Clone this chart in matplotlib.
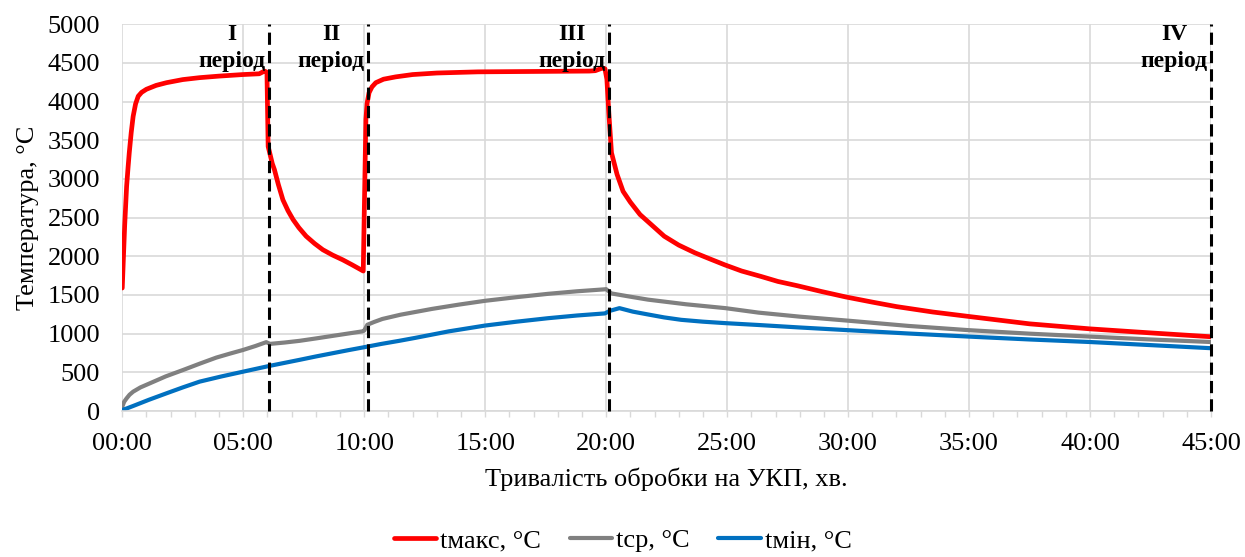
import matplotlib
matplotlib.use('Agg')
import matplotlib.pyplot as plt
from matplotlib.ticker import MultipleLocator, FixedLocator

# time in minutes, temperature in deg C
t_max = [0.0, 0.05, 0.1, 0.18, 0.24, 0.29, 0.37, 0.45, 0.55, 0.66, 0.8, 1.0, 1.4,
         1.83, 2.5, 3.2, 4.0, 4.98, 5.66, 5.88, 5.98,
         6.03, 6.1, 6.2, 6.29, 6.45, 6.64, 6.85, 7.06, 7.3, 7.6, 7.95, 8.29, 8.7,
         9.11, 9.5, 9.96,
         10.07, 10.12, 10.2, 10.32, 10.48, 10.8, 11.3, 12.0, 13.0, 14.7, 17.0,
         19.3, 19.55, 19.85, 19.95,
         20.03, 20.11, 20.22, 20.45, 20.7, 21.0, 21.4, 21.9, 22.4, 23.0, 23.67,
         24.3, 24.9, 25.6, 26.4, 27.1, 27.9, 28.9, 29.9, 31.0, 32.0, 33.5, 35.0,
         37.5, 40.0, 42.5, 45.0]
v_max = [1590, 2000, 2400, 2905, 3150, 3340, 3600, 3810, 3970, 4070, 4120, 4160, 4210,
         4245, 4285, 4310, 4330, 4350, 4360, 4395, 4380,
         3420, 3330, 3200, 3120, 2930, 2730, 2590, 2475, 2370, 2260, 2165, 2085, 2015,
         1955, 1890, 1810,
         3770, 3980, 4115, 4190, 4245, 4290, 4320, 4350, 4370, 4385, 4390,
         4395, 4400, 4435, 4425,
         4290, 3855, 3340, 3060, 2840, 2700, 2540, 2400, 2260, 2145, 2045,
         1965, 1890, 1810, 1740, 1675, 1620, 1545, 1475, 1408, 1350, 1280, 1222,
         1127, 1062, 1010, 960]

t_avg = [0.0, 0.08, 0.18, 0.3, 0.45, 0.75, 1.14, 1.8, 2.52, 3.2, 3.89, 4.45, 5.0,
         5.5, 5.95, 6.11, 6.7, 7.32, 8.0, 8.69, 9.3, 9.93, 10.0,
         10.13, 10.4, 10.75, 11.5, 12.8, 13.9, 15.0, 16.3, 17.6, 18.8, 19.88, 20.0,
         20.22, 21.0, 21.73, 23.3, 24.93, 26.3, 28.0, 30.0, 32.5, 35.0, 37.5,
         40.0, 42.5, 45.0]
v_avg = [56, 120, 164, 210, 250, 305, 358, 448, 531, 612, 691, 742, 790,
         840, 890, 868, 885, 907, 938, 971, 1000, 1030, 1040,
         1115, 1150, 1190, 1245, 1320, 1375, 1425, 1472, 1515, 1548, 1572, 1575,
         1520, 1478, 1440, 1380, 1330, 1272, 1220, 1168, 1100, 1045, 1000,
         962, 925, 892]

t_min = [0.0, 0.2, 0.45, 1.1, 1.83, 2.5, 3.2, 4.1, 5.0, 6.08, 6.7, 7.32, 8.0, 8.69,
         9.35, 10.0, 10.7, 11.44, 12.1, 13.5, 15.0, 16.3, 17.6, 18.8, 19.95,
         20.15, 20.55, 21.1, 21.7, 22.4, 23.1, 24.0, 24.93, 26.3, 28.0, 30.0,
         32.5, 35.0, 37.5, 40.0, 42.5, 45.0]
v_min = [13, 35, 65, 145, 229, 305, 380, 447, 509, 583, 622, 661, 705, 747,
         787, 825, 867, 907, 945, 1030, 1105, 1155, 1200, 1235, 1262,
         1295, 1330, 1285, 1250, 1210, 1179, 1155, 1136, 1112, 1080, 1045,
         1002, 962, 925, 892, 852, 812]

periods = [6.08, 10.16, 20.13, 45.0]
period_names = ['I\nперіод', 'II\nперіод', 'III\nперіод', 'IV\nперіод']

x_ticks = [0, 5, 10, 15, 20, 25, 30, 35, 40, 45]
x_labels = ['00:00', '05:00', '10:00', '15:00', '20:00', '25:00', '30:00',
            '35:00', '40:00', '45:00']

plt.rcParams['font.family'] = ['Liberation Serif', 'DejaVu Serif']

fig = plt.figure(figsize=(12.45, 5.57), dpi=100)
ax = fig.add_axes([0.0982, 0.2621, 0.9727 - 0.0982, 0.9564 - 0.2621])

ax.plot(t_max, v_max, color='#ff0000', lw=3.4, label='tмакс, °C',
        solid_joinstyle='round', solid_capstyle='round')
ax.plot(t_avg, v_avg, color='#808080', lw=3.0, label='tср, °C',
        solid_joinstyle='round', solid_capstyle='round')
ax.plot(t_min, v_min, color='#0070c0', lw=3.0, label='tмін, °C',
        solid_joinstyle='round', solid_capstyle='round')

# period boundaries and labels
for p, name in zip(periods, period_names):
    ax.axvline(p, color='black', lw=2.2, linestyle=(0, (4, 2)), zorder=5,
               clip_on=False)
    ax.text(p - 0.15, 5010, name, ha='right', va='top', multialignment='center',
            fontsize=17, fontweight='bold', linespacing=1.4)

ax.set_xlim(0, 45)
ax.set_ylim(0, 5000)
ax.xaxis.set_major_locator(FixedLocator(x_ticks))
ax.set_xticklabels(x_labels)
ax.xaxis.set_minor_locator(MultipleLocator(1))
ax.yaxis.set_major_locator(MultipleLocator(500))

ax.grid(True, which='major', color='#d9d9d9', lw=1.2)
ax.set_axisbelow(True)
for s in ['top', 'right', 'left']:
    ax.spines[s].set_visible(False)
ax.spines['bottom'].set_color('#d9d9d9')
ax.spines['bottom'].set_linewidth(1.2)

ax.tick_params(axis='x', which='both', length=4, width=1.0, color='#d9d9d9',
               labelsize=19, pad=12)
ax.tick_params(axis='y', length=0, labelsize=19, pad=16)

ax.set_xlabel('Тривалість обробки на УКП, хв.', fontsize=19, labelpad=9)
ax.set_ylabel('Температура, °C', fontsize=19, labelpad=6)

fig.legend(loc='center', bbox_to_anchor=(0.5, 0.03), ncol=3, frameon=False,
           fontsize=19, handlelength=1.6, handletextpad=0.15, columnspacing=1.1)

plt.savefig('out.png', dpi=100)
plt.close()
